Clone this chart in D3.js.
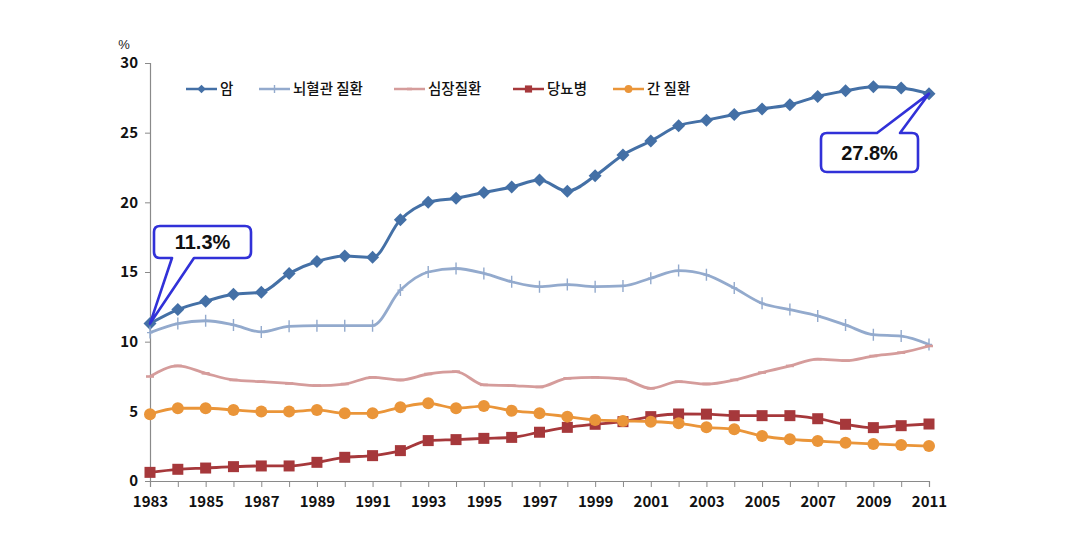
<!DOCTYPE html>
<html>
<head>
<meta charset="utf-8">
<script src="https://cdn.jsdelivr.net/npm/d3@7"></script>
<style>
  html, body { margin: 0; padding: 0; background: #ffffff; }
  svg { display: block; }
</style>
</head>
<body>
<svg id="chart" width="1067" height="538"></svg>
<script>
const years = d3.range(1983, 2012);
const cancer = [11.3, 12.3, 12.9, 13.4, 13.55, 14.9, 15.75, 16.15, 16.05, 18.75, 20.0, 20.3, 20.7, 21.1, 21.6, 20.8, 21.9, 23.4, 24.4, 25.5, 25.9, 26.3, 26.7, 27.0, 27.6, 28.0, 28.3, 28.2, 27.8];
const cerebro = [10.65, 11.3, 11.5, 11.2, 10.7, 11.1, 11.15, 11.15, 11.15, 13.7, 15.0, 15.25, 14.9, 14.3, 13.95, 14.1, 13.95, 14.0, 14.55, 15.1, 14.8, 13.85, 12.75, 12.3, 11.85, 11.2, 10.5, 10.4, 9.8];
const heart = [7.5, 8.26, 7.73, 7.25, 7.13, 7.0, 6.85, 6.96, 7.44, 7.25, 7.68, 7.85, 6.9, 6.85, 6.75, 7.37, 7.44, 7.32, 6.65, 7.13, 6.96, 7.25, 7.78, 8.26, 8.74, 8.64, 8.97, 9.21, 9.69];
const diabetes = [0.62, 0.84, 0.93, 1.03, 1.08, 1.08, 1.34, 1.7, 1.82, 2.18, 2.9, 2.97, 3.06, 3.13, 3.5, 3.85, 4.07, 4.26, 4.62, 4.81, 4.8, 4.69, 4.69, 4.69, 4.47, 4.07, 3.83, 3.97, 4.09];
const liver = [4.79, 5.22, 5.22, 5.1, 4.98, 4.98, 5.1, 4.86, 4.86, 5.29, 5.58, 5.22, 5.38, 5.05, 4.86, 4.62, 4.38, 4.31, 4.26, 4.14, 3.85, 3.71, 3.23, 2.99, 2.87, 2.75, 2.66, 2.58, 2.51];
const seriesNames = ["암", "뇌혈관 질환", "심장질환", "당뇨병", "간 질환"];
const yTicks = [0, 5, 10, 15, 20, 25, 30];
const xLabelYears = d3.range(1983, 2012, 2);
const callouts = [{year: 1983, series: 0, text: "11.3%"}, {year: 2011, series: 0, text: "27.8%"}];

const seriesData = [cancer, cerebro, heart, diabetes, liver];
const styles = [
  {color: "#4470A6", width: 3, marker: "diamond"},
  {color: "#93AACD", width: 2.8, marker: "plus"},
  {color: "#D59C9B", width: 2.8, marker: "dash"},
  {color: "#A6383B", width: 2.8, marker: "square"},
  {color: "#EA9539", width: 2.8, marker: "circle"}
];

const svg = d3.select("#chart");
const x = d3.scaleLinear().domain([1983, 2011]).range([150, 929]);
const y = d3.scaleLinear().domain([0, 30]).range([481, 63]);
const numFont = "'Noto Sans CJK KR', 'Noto Sans', sans-serif";

// Y axis
const yAxis = svg.append("g").attr("transform", "translate(150,0)")
  .call(d3.axisLeft(y).tickValues(yTicks).tickSize(5).tickPadding(7).tickFormat(d3.format("d")));
yAxis.select(".domain").attr("stroke", "#8a8a8a").attr("stroke-width", 1.2);
yAxis.selectAll(".tick line").attr("stroke", "#8a8a8a");
yAxis.selectAll(".tick text").attr("font-family", numFont).attr("font-weight", "bold")
  .attr("font-size", 15).attr("fill", "#111");

svg.append("text").attr("x", 124).attr("y", 49).attr("text-anchor", "middle")
  .attr("font-family", "'Liberation Sans', Arial, sans-serif").attr("font-size", 13).attr("fill", "#222").text("%");

// X axis
const xAxis = svg.append("g").attr("transform", "translate(0,481)")
  .call(d3.axisBottom(x).tickValues(years).tickSize(6).tickPadding(9)
    .tickFormat(d => xLabelYears.includes(d) ? String(d) : ""));
xAxis.select(".domain").attr("stroke", "#8a8a8a").attr("stroke-width", 1.2);
xAxis.selectAll(".tick line").attr("stroke", "#8a8a8a");
xAxis.selectAll(".tick text").attr("font-family", numFont).attr("font-weight", "bold")
  .attr("font-size", 15).attr("fill", "#111");

function drawMarker(g, type, cx, cy, color, scale) {
  const s = scale || 1;
  if (type === "diamond") {
    const r = 6.5 * s;
    g.append("path").attr("d", `M${cx},${cy - r}L${cx + r},${cy}L${cx},${cy + r}L${cx - r},${cy}Z`)
      .attr("fill", color);
  } else if (type === "plus") {
    g.append("path").attr("d", `M${cx},${cy - 6 * s}V${cy + 6 * s}M${cx - 3 * s},${cy}H${cx + 3 * s}`)
      .attr("stroke", color).attr("stroke-width", 1.4).attr("fill", "none");
  } else if (type === "dash") {
    g.append("path").attr("d", `M${cx - 4 * s},${cy}H${cx + 4 * s}`)
      .attr("stroke", color).attr("stroke-width", 2.6).attr("fill", "none");
  } else if (type === "square") {
    const h = 5.5 * s;
    g.append("rect").attr("x", cx - h).attr("y", cy - h).attr("width", 2 * h).attr("height", 2 * h)
      .attr("fill", color);
  } else if (type === "circle") {
    g.append("circle").attr("cx", cx).attr("cy", cy).attr("r", 6 * s).attr("fill", color);
  }
}

const line = d3.line().x((d, i) => x(years[i])).y(d => y(d)).curve(d3.curveMonotoneX);

seriesData.forEach((vals, si) => {
  const st = styles[si];
  const g = svg.append("g");
  g.append("path").datum(vals).attr("d", line).attr("fill", "none")
    .attr("stroke", st.color).attr("stroke-width", st.width).attr("stroke-linejoin", "round");
  vals.forEach((v, i) => drawMarker(g, st.marker, x(years[i]), y(v), st.color, 1));
});

// Legend
const legendX = [186, 259, 394, 513, 613];
seriesNames.forEach((name, i) => {
  const st = styles[i];
  const lx = legendX[i], ly = 89;
  const g = svg.append("g");
  g.append("line").attr("x1", lx).attr("x2", lx + 31).attr("y1", ly).attr("y2", ly)
    .attr("stroke", st.color).attr("stroke-width", 2.5);
  drawMarker(g, st.marker, lx + 15.5, ly, st.color, 0.65);
  g.append("text").attr("x", lx + 34).attr("y", ly + 5).attr("font-family", numFont)
    .attr("font-size", 14.5).attr("font-weight", 500).attr("fill", "#111").text(name);
});

// Callouts
function callout(c, box, baseX1, baseX2, side) {
  const tipX = x(c.year), tipY = y(seriesData[c.series][years.indexOf(c.year)]);
  const {x0, y0, x1, y1} = box; const r = 6;
  let d;
  if (side === "bottom") {
    d = `M${x0 + r},${y0}H${x1 - r}Q${x1},${y0} ${x1},${y0 + r}V${y1 - r}Q${x1},${y1} ${x1 - r},${y1}` +
        `H${baseX2}L${tipX},${tipY}L${baseX1},${y1}H${x0 + r}Q${x0},${y1} ${x0},${y1 - r}V${y0 + r}Q${x0},${y0} ${x0 + r},${y0}Z`;
  } else {
    d = `M${x0 + r},${y0}H${baseX1}L${tipX},${tipY}L${baseX2},${y0}H${x1 - r}Q${x1},${y0} ${x1},${y0 + r}V${y1 - r}Q${x1},${y1} ${x1 - r},${y1}` +
        `H${x0 + r}Q${x0},${y1} ${x0},${y1 - r}V${y0 + r}Q${x0},${y0} ${x0 + r},${y0}Z`;
  }
  svg.append("path").attr("d", d).attr("fill", "#ffffff").attr("stroke", "#3131D8")
    .attr("stroke-width", 2.6).attr("stroke-linejoin", "round");
  svg.append("text").attr("x", (x0 + x1) / 2).attr("y", (y0 + y1) / 2 + 7).attr("text-anchor", "middle")
    .attr("font-family", "'Liberation Sans', Arial, sans-serif").attr("font-weight", "bold")
    .attr("font-size", 20).attr("fill", "#111").text(c.text);
}
callout(callouts[0], {x0: 154, y0: 226, x1: 251, y1: 258}, 172, 194, "bottom");
callout(callouts[1], {x0: 821, y0: 133, x1: 918, y1: 172}, 877, 900, "top");
</script>
</body>
</html>
